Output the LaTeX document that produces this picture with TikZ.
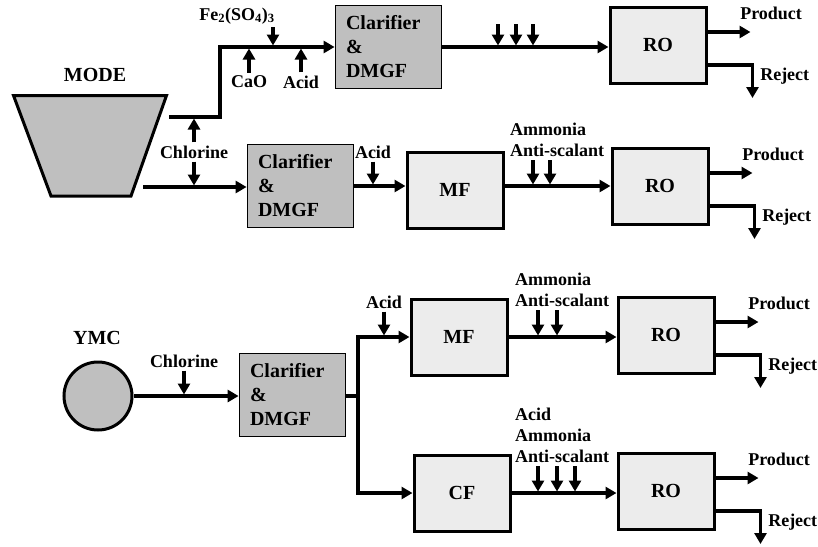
\documentclass[tikz,border=0pt]{standalone}
\usepackage{fontspec}
\setmainfont{Liberation Serif}
\usetikzlibrary{arrows.meta,positioning,calc}

\begin{document}
\begin{tikzpicture}[
    x=1pt, y=-1pt,
    font=\bfseries\fontsize{18}{21}\selectfont,
    big/.style={font=\bfseries\fontsize{20}{24}\selectfont},
    unit/.style={draw, line width=3pt, fill=gray!15, minimum width=96pt, minimum height=76pt, big},
    clar/.style={draw, line width=0.8pt, fill=gray!50, inner sep=0pt, text width=84pt, minimum width=106pt, minimum height=83pt, align=left, big},
    tank/.style={draw, line width=3pt, fill=gray!50},
    lbl/.style={inner sep=1pt},
    chem/.style={lbl, align=left, anchor=south west},
    pipe/.style={line width=3.5pt},
    flow/.style={pipe, -{Triangle[length=11pt,width=12pt]}},
    dose/.style={flow, shorten <=2pt, shorten >=1.5pt}
  ]
  \useasboundingbox (0,0) rectangle (818,546);

  % MODE: pond feeding two trains
  \node[big] (mode) at (95,75) {MODE};
  \draw[tank] (13.5,95.5) -- (166.5,95.5) -- (131,196) -- (51,196) -- cycle;
  \coordinate (modeA) at (169,117);
  \coordinate (modeB) at (143,187);

  % upper train
  \node[clar] (clar1) at (388,47) {Clarifier\\\&\\DMGF};
  \node[unit] (ro1) at (658,45) {RO};
  \node[lbl] (fe) at (237,16) {Fe\textsubscript{2}(SO\textsubscript{4})\textsubscript{3}};
  \node[lbl] (cao) at (249,82) {CaO};
  \node[lbl] (acid1) at (301,82) {Acid};
  \node[lbl] (chl1) at (194,152) {Chlorine};
  \coordinate (feIn) at (273,25);
  \draw[flow] (modeA) -- ++(51,0) |- (clar1.west);
  \draw[dose] (feIn) -- (feIn |- clar1.west);
  \draw[dose] (cao.north) -- (cao.north |- clar1.west);
  \draw[dose] (acid1.north) -- (acid1.north |- clar1.west);
  \draw[flow] (clar1.east) -- (clar1.east -| ro1.west);
  \foreach \x [count=\i] in {498,516,533} {
    \coordinate (top\i) at (\x,22);
    \draw[dose] (top\i) -- (top\i |- clar1.east);
  }

  % lower train
  \node[clar] (clar2) at (300,186) {Clarifier\\\&\\DMGF};
  \node[unit] (mf1) at (455,190) {MF};
  \node[unit] (ro2) at (660,186) {RO};
  \node[lbl] (acid2) at (373,152) {Acid};
  \node[chem] (chem2) at (509,158) {Ammonia\\Anti-scalant};
  \draw[flow] (modeB) -- (modeB -| clar2.west);
  \draw[dose] (chl1.north) -- (chl1.north |- modeA);
  \draw[dose] (chl1.south) -- (chl1.south |- modeB);
  \draw[flow] (clar2.east) -- (clar2.east -| mf1.west);
  \draw[dose] (acid2.south) -- (acid2.south |- clar2.east);
  \draw[flow] (mf1.east |- ro2.west) -- (ro2.west);
  \foreach \dx in {24,41}
    \draw[dose] ([xshift=\dx pt]chem2.south west) -- ([xshift=\dx pt]chem2.south west |- ro2.west);

  % YMC: one clarifier, split to MF and CF
  \node[big] (ymcname) at (97,338) {YMC};
  \node[draw, circle, line width=3pt, fill=gray!50, minimum size=68pt] (ymc) at (98,396) {};
  \node[clar] (clar3) at (292,395) {Clarifier\\\&\\DMGF};
  \node[lbl] (chl3) at (184,361) {Chlorine};
  \coordinate (split) at (358,396);
  \node[unit] (mf2) at (459,337) {MF};
  \node[unit] (cf) at (462,493) {CF};
  \node[unit] (ro3) at (666,335) {RO};
  \node[unit] (ro4) at (666,491) {RO};
  \node[lbl] (acid3) at (384,302) {Acid};
  \node[chem] (chem3) at (514,308) {Ammonia\\Anti-scalant};
  \node[chem] (chem4) at (514,464) {Acid\\Ammonia\\Anti-scalant};
  \draw[flow] (ymc) -- (ymc -| clar3.west);
  \draw[dose] (chl3.south) -- (chl3.south |- ymc);
  \draw[pipe] (clar3.east |- split) -- (split);
  \draw[flow] (split) |- (mf2.west);
  \draw[flow] (split) |- (cf.west);
  \draw[dose] (acid3.south) -- (acid3.south |- mf2.west);
  \draw[flow] (mf2.east) -- (mf2.east -| ro3.west);
  \draw[flow] (cf.east) -- (cf.east -| ro4.west);
  \foreach \dx in {24,43}
    \draw[dose] ([xshift=\dx pt]chem3.south west) -- ([xshift=\dx pt]chem3.south west |- mf2.east);
  \foreach \dx in {24,43,61}
    \draw[dose] ([xshift=\dx pt]chem4.south west) -- ([xshift=\dx pt]chem4.south west |- cf.east);

  % RO outlets
  \foreach \ro in {ro1,ro2,ro3,ro4} {
    \draw[flow] ([yshift=13pt]\ro.east) -- ++(43,0)
      node[lbl, anchor=south west, xshift=-13pt, yshift=10pt] {Product};
    \draw[flow] ([yshift=-20pt]\ro.east) -- ++(45,0) -- ++(0,33)
      node[lbl, pos=0.35, right=5pt] {Reject};
  }
\end{tikzpicture}
\end{document}
